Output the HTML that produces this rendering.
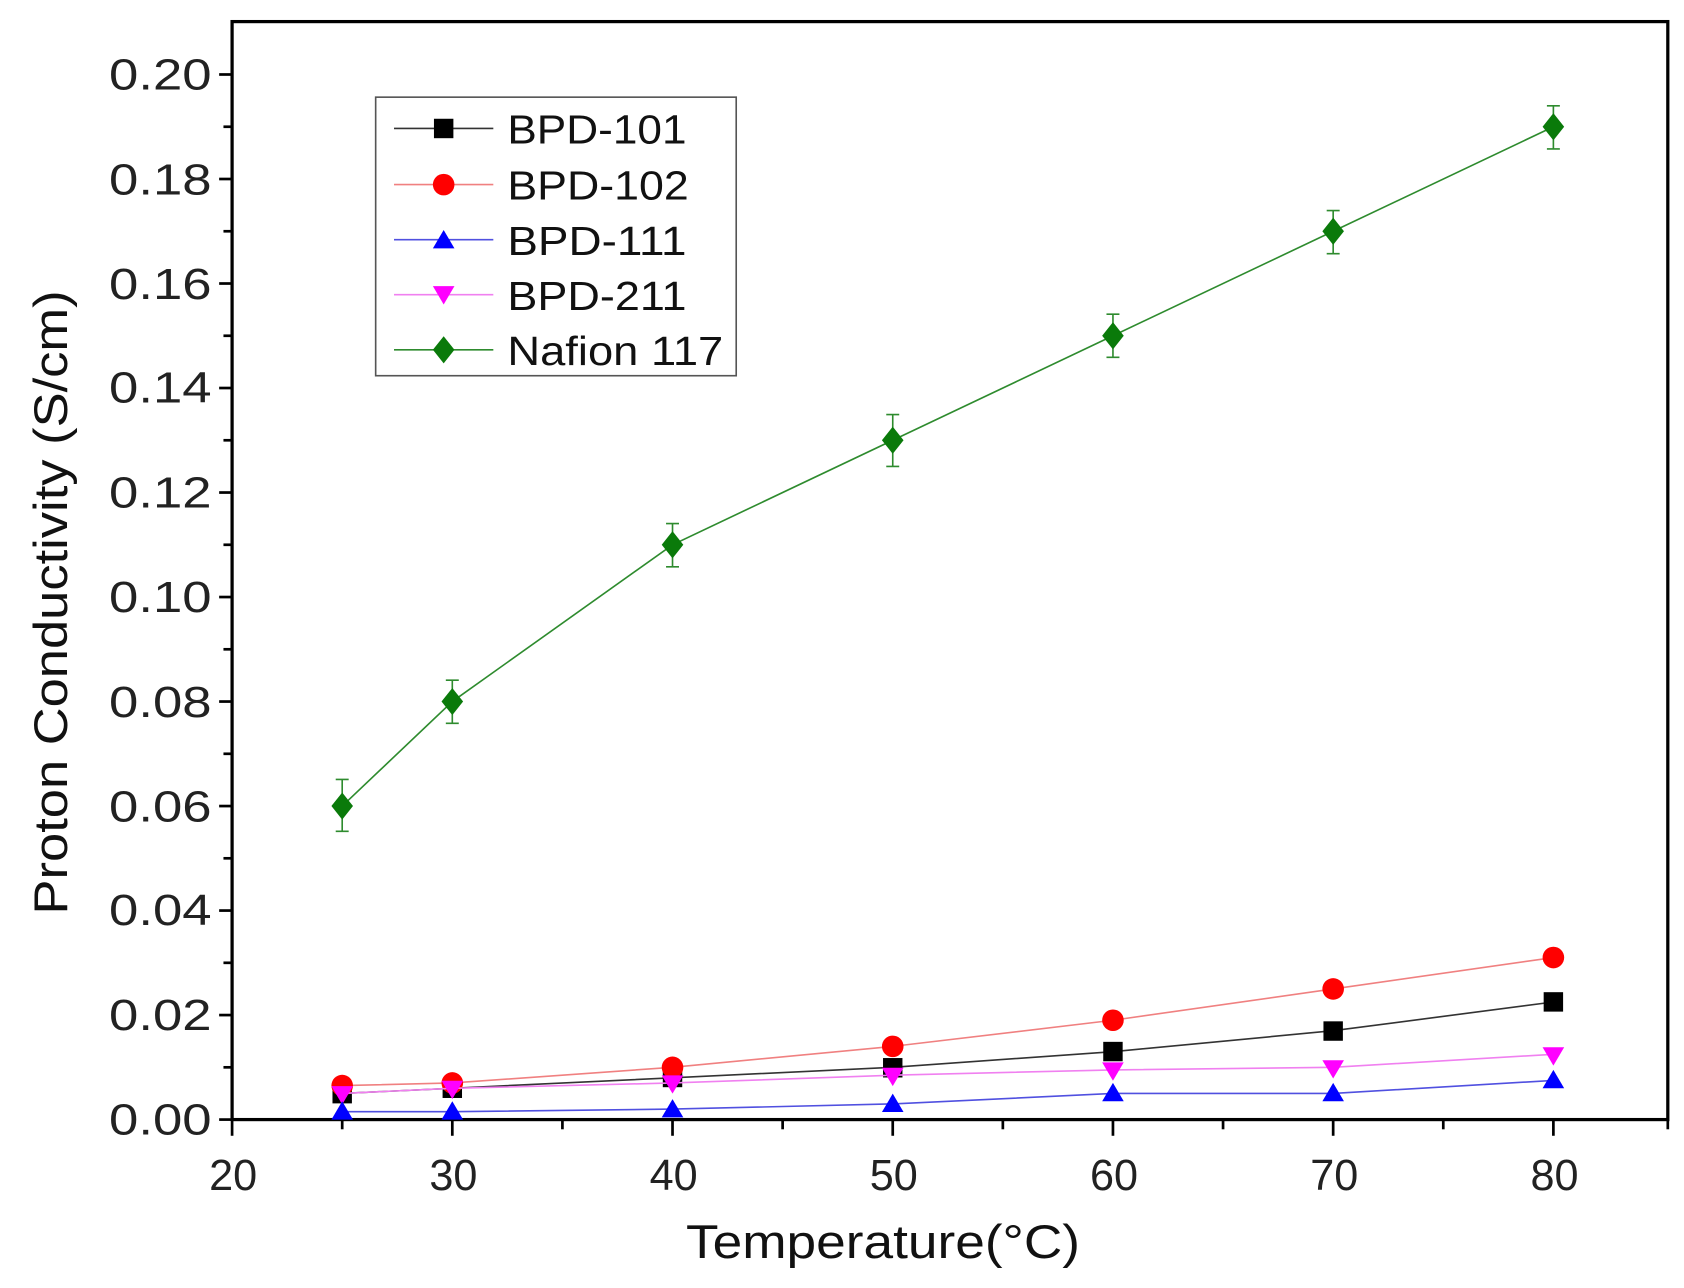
<!DOCTYPE html>
<html><head><meta charset="utf-8"><style>html,body{margin:0;padding:0;background:#fff}svg{display:block}</style></head>
<body>
<svg width="1684" height="1288" viewBox="0 0 1560 1193" preserveAspectRatio="none" xmlns="http://www.w3.org/2000/svg" font-family="Liberation Sans, Arial, sans-serif">
<rect width="1560" height="1193" fill="#fff"/>
<g id="plot"></g>
<!-- axes -->
<rect x="215" y="20" width="1330" height="1017" fill="none" stroke="#000" stroke-width="3"/>
<g stroke="#000" stroke-width="2.5">
<!-- y ticks -->
<line x1="203" y1="1037" x2="215" y2="1037"/><line x1="207" y1="988.6" x2="215" y2="988.6"/>
<line x1="203" y1="940.2" x2="215" y2="940.2"/><line x1="207" y1="891.8" x2="215" y2="891.8"/>
<line x1="203" y1="843.4" x2="215" y2="843.4"/><line x1="207" y1="795" x2="215" y2="795"/>
<line x1="203" y1="746.6" x2="215" y2="746.6"/><line x1="207" y1="698.2" x2="215" y2="698.2"/>
<line x1="203" y1="649.8" x2="215" y2="649.8"/><line x1="207" y1="601.4" x2="215" y2="601.4"/>
<line x1="203" y1="553" x2="215" y2="553"/><line x1="207" y1="504.6" x2="215" y2="504.6"/>
<line x1="203" y1="456.2" x2="215" y2="456.2"/><line x1="207" y1="407.8" x2="215" y2="407.8"/>
<line x1="203" y1="359.4" x2="215" y2="359.4"/><line x1="207" y1="311" x2="215" y2="311"/>
<line x1="203" y1="262.6" x2="215" y2="262.6"/><line x1="207" y1="214.2" x2="215" y2="214.2"/>
<line x1="203" y1="165.8" x2="215" y2="165.8"/><line x1="207" y1="117.4" x2="215" y2="117.4"/>
<line x1="203" y1="69" x2="215" y2="69"/>
<!-- x ticks -->
<line x1="215" y1="1037" x2="215" y2="1052"/><line x1="317" y1="1037" x2="317" y2="1046"/>
<line x1="419" y1="1037" x2="419" y2="1052"/><line x1="521" y1="1037" x2="521" y2="1046"/>
<line x1="623" y1="1037" x2="623" y2="1052"/><line x1="725" y1="1037" x2="725" y2="1046"/>
<line x1="827" y1="1037" x2="827" y2="1052"/><line x1="929" y1="1037" x2="929" y2="1046"/>
<line x1="1031" y1="1037" x2="1031" y2="1052"/><line x1="1133" y1="1037" x2="1133" y2="1046"/>
<line x1="1235" y1="1037" x2="1235" y2="1052"/><line x1="1337" y1="1037" x2="1337" y2="1046"/>
<line x1="1439" y1="1037" x2="1439" y2="1052"/><line x1="1545" y1="1037" x2="1545" y2="1046"/>
</g>
<g font-size="40" fill="#222" text-anchor="end">
<text x="196" y="1051" textLength="95" lengthAdjust="spacingAndGlyphs">0.00</text>
<text x="196" y="954" textLength="95" lengthAdjust="spacingAndGlyphs">0.02</text>
<text x="196" y="857" textLength="95" lengthAdjust="spacingAndGlyphs">0.04</text>
<text x="196" y="761" textLength="95" lengthAdjust="spacingAndGlyphs">0.06</text>
<text x="196" y="664" textLength="95" lengthAdjust="spacingAndGlyphs">0.08</text>
<text x="196" y="567" textLength="95" lengthAdjust="spacingAndGlyphs">0.10</text>
<text x="196" y="470" textLength="95" lengthAdjust="spacingAndGlyphs">0.12</text>
<text x="196" y="373" textLength="95" lengthAdjust="spacingAndGlyphs">0.14</text>
<text x="196" y="277" textLength="95" lengthAdjust="spacingAndGlyphs">0.16</text>
<text x="196" y="180" textLength="95" lengthAdjust="spacingAndGlyphs">0.18</text>
<text x="196" y="83" textLength="95" lengthAdjust="spacingAndGlyphs">0.20</text>
</g>
<g font-size="40" fill="#222" text-anchor="middle">
<text x="216" y="1102">20</text><text x="420" y="1102">30</text><text x="624" y="1102">40</text>
<text x="828" y="1102">50</text><text x="1032" y="1102">60</text><text x="1236" y="1102">70</text><text x="1440" y="1102">80</text>
</g>
<text x="818" y="1165" font-size="44" text-anchor="middle" fill="#111" textLength="365" lengthAdjust="spacingAndGlyphs">Temperature(°C)</text>
<text transform="translate(62,558) rotate(-90)" font-size="44" text-anchor="middle" fill="#111" textLength="578" lengthAdjust="spacingAndGlyphs">Proton Conductivity (S/cm)</text>

<!-- series: x px = 215+(T-20)*20.4 ; y px = 1037 - v*4840 -->
<!-- BPD-101 -->
<polyline fill="none" stroke="#333" stroke-width="1.5" points="317,1012.8 419,1008 623,998.3 827,988.6 1031,974.1 1235,954.7 1439,928.1"/>
<g fill="#000"><rect x="308" y="1004" width="18" height="18"/><rect x="410" y="999" width="18" height="18"/><rect x="614" y="989" width="18" height="18"/><rect x="818" y="980" width="18" height="18"/><rect x="1022" y="965" width="18" height="18"/><rect x="1226" y="946" width="18" height="18"/><rect x="1430" y="919" width="18" height="18"/></g>
<!-- BPD-102 -->
<polyline fill="none" stroke="#f08080" stroke-width="1.5" points="317,1005.5 419,1003.1 623,988.6 827,969.2 1031,945 1235,916 1439,886.9"/>
<g fill="#f00"><circle cx="317" cy="1005.5" r="10"/><circle cx="419" cy="1003.1" r="10"/><circle cx="623" cy="988.6" r="10"/><circle cx="827" cy="969.2" r="10"/><circle cx="1031" cy="945" r="10"/><circle cx="1235" cy="916" r="10"/><circle cx="1439" cy="886.9" r="10"/></g>
<!-- BPD-211 -->
<polyline fill="none" stroke="#f080f0" stroke-width="1.5" points="317,1012.8 419,1008 623,1003.1 827,995.9 1031,991 1235,988.6 1439,976.5"/>
<g fill="#f0f"><path d="M307,1006h20l-10,17z"/><path d="M409,1001h20l-10,17z"/><path d="M613,996h20l-10,17z"/><path d="M817,989h20l-10,17z"/><path d="M1021,984h20l-10,17z"/><path d="M1225,982h20l-10,17z"/><path d="M1429,970h20l-10,17z"/></g>
<!-- BPD-111 -->
<polyline fill="none" stroke="#5050e0" stroke-width="1.5" points="317,1029.7 419,1029.7 623,1027.3 827,1022.5 1031,1012.8 1235,1012.8 1439,1000.7"/>
<g fill="#00f"><path d="M307,1037h20l-10,-17z"/><path d="M409,1037h20l-10,-17z"/><path d="M613,1035h20l-10,-17z"/><path d="M817,1030h20l-10,-17z"/><path d="M1021,1020h20l-10,-17z"/><path d="M1225,1020h20l-10,-17z"/><path d="M1429,1008h20l-10,-17z"/></g>
<!-- Nafion -->
<g stroke="#2e8b2e" stroke-width="1.5" fill="none">
<polyline points="317,746.6 419,649.8 623,504.6 827,407.8 1031,311 1235,214.2 1439,117.4"/>
<path d="M317,722v48M311,722h12M311,770h12 M419,630v40M413,630h12M413,670h12 M623,485v40M617,485h12M617,525h12 M827,384v48M821,384h12M821,432h12 M1031,291v40M1025,291h12M1025,331h12 M1235,195v40M1229,195h12M1229,235h12 M1439,98v40M1433,98h12M1433,138h12"/>
</g>
<g fill="#0a7a0a"><path d="M317,734l10,12.6l-10,12.6l-10,-12.6z"/><path d="M419,637.2l10,12.6l-10,12.6l-10,-12.6z"/><path d="M623,492l10,12.6l-10,12.6l-10,-12.6z"/><path d="M827,395.2l10,12.6l-10,12.6l-10,-12.6z"/><path d="M1031,298.4l10,12.6l-10,12.6l-10,-12.6z"/><path d="M1235,201.6l10,12.6l-10,12.6l-10,-12.6z"/><path d="M1439,104.8l10,12.6l-10,12.6l-10,-12.6z"/></g>

<!-- legend -->
<rect x="348" y="90" width="334" height="258" fill="#fff" stroke="#555" stroke-width="1.5"/>
<g stroke-width="1.5">
<line x1="365" y1="119" x2="457" y2="119" stroke="#333"/><rect x="402" y="110" width="18" height="18" fill="#000"/>
<line x1="365" y1="171" x2="457" y2="171" stroke="#f08080"/><circle cx="411" cy="171" r="10" fill="#f00"/>
<line x1="365" y1="222" x2="457" y2="222" stroke="#5050e0"/><path d="M401,230h20l-10,-17z" fill="#00f"/>
<line x1="365" y1="273" x2="457" y2="273" stroke="#f080f0"/><path d="M401,265h20l-10,17z" fill="#f0f"/>
<line x1="365" y1="324" x2="457" y2="324" stroke="#2e8b2e"/><path d="M411,311.4l10,12.6l-10,12.6l-10,-12.6z" fill="#0a7a0a"/>
</g>
<g font-size="38" fill="#111">
<text x="470" y="133" textLength="166" lengthAdjust="spacingAndGlyphs">BPD-101</text>
<text x="470" y="185" textLength="168" lengthAdjust="spacingAndGlyphs">BPD-102</text>
<text x="470" y="236" textLength="166" lengthAdjust="spacingAndGlyphs">BPD-111</text>
<text x="470" y="287" textLength="166" lengthAdjust="spacingAndGlyphs">BPD-211</text>
<text x="470" y="338" textLength="200" lengthAdjust="spacingAndGlyphs">Nafion 117</text>
</g>
</svg>
</body></html>
